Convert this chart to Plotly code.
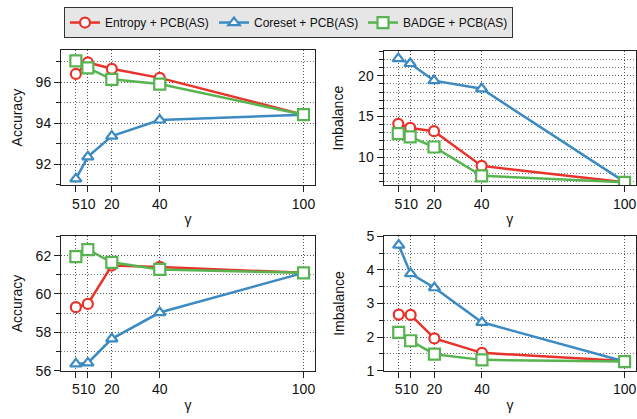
import plotly.graph_objects as go

gamma = [5, 10, 20, 40, 100]
series_names = ["Entropy + PCB(AS)", "Coreset + PCB(AS)", "BADGE + PCB(AS)"]

# top-left: accuracy
acc_top_entropy = [96.4, 96.96, 96.65, 96.21, 94.42]
acc_top_coreset = [91.3, 92.37, 93.38, 94.16, 94.42]
acc_top_badge = [97.04, 96.70, 96.14, 95.91, 94.42]
# top-right: imbalance
imb_top_entropy = [14.1, 13.6, 13.2, 8.94, 6.93]
imb_top_coreset = [22.1, 21.5, 19.4, 18.4, 6.98]
imb_top_badge = [12.9, 12.5, 11.26, 7.72, 6.93]
# bottom-left: accuracy
acc_bot_entropy = [59.31, 59.48, 61.48, 61.41, 61.1]
acc_bot_coreset = [56.35, 56.4, 57.66, 59.03, 61.1]
acc_bot_badge = [61.95, 62.31, 61.65, 61.28, 61.1]
# bottom-right: imbalance
imb_bot_entropy = [2.67, 2.66, 1.96, 1.53, 1.29]
imb_bot_coreset = [4.74, 3.89, 3.47, 2.44, 1.27]
imb_bot_badge = [2.14, 1.89, 1.49, 1.32, 1.27]

colors = ["#e8322a", "#3b8bc2", "#58b450"]
symbols = ["circle", "triangle-up", "square"]

panels = [
    ("x", "y", [acc_top_entropy, acc_top_coreset, acc_top_badge]),
    ("x2", "y2", [imb_top_entropy, imb_top_coreset, imb_top_badge]),
    ("x3", "y3", [acc_bot_entropy, acc_bot_coreset, acc_bot_badge]),
    ("x4", "y4", [imb_bot_entropy, imb_bot_coreset, imb_bot_badge]),
]

fig = go.Figure()
for pi, (xa, ya, data) in enumerate(panels):
    for si, vals in enumerate(data):
        fig.add_trace(go.Scatter(
            x=gamma, y=vals, xaxis=xa, yaxis=ya,
            mode="lines+markers", name=series_names[si],
            showlegend=(pi == 0),
            line=dict(color=colors[si], width=2.5),
            marker=dict(symbol=symbols[si], size=10 if si != 2 else 11,
                        color="white", line=dict(color=colors[si], width=2.2)),
        ))

W, H = 637, 419
def px_x(a, b):
    return [a / W, b / W]
def px_y(top, bottom):
    return [1 - bottom / H, 1 - top / H]

font = "Liberation Sans, Arial, Helvetica, sans-serif"
grid_major = "#555555"
grid_minor = "#777777"
DOT = "1px,2px"

def xaxis_cfg(domain, anchor):
    return dict(
        domain=domain, anchor=anchor, range=[-1.2, 104.8],
        tickmode="array", tickvals=gamma, ticktext=[str(g) for g in gamma],
        tickangle=0,
        ticks="outside", ticklen=6, tickcolor="#222", tickwidth=1,
        showline=True, linecolor="#222", linewidth=1, mirror=True,
        showgrid=True, gridcolor=grid_major, griddash=DOT, gridwidth=1,
        zeroline=False,
        tickfont=dict(size=14, color="#111", family=font),
        title=dict(text="γ", font=dict(size=14, color="#111", family=font), standoff=3),
    )

def yaxis_cfg(domain, anchor, rng, tick0, dtick, mtick0, mdtick, title, standoff):
    return dict(
        domain=domain, anchor=anchor, range=rng,
        tickmode="linear", tick0=tick0, dtick=dtick,
        ticks="outside", ticklen=6, tickcolor="#222", tickwidth=1,
        showline=True, linecolor="#222", linewidth=1, mirror=True,
        showgrid=True, gridcolor=grid_major, griddash=DOT, gridwidth=1,
        zeroline=False,
        minor=dict(tickmode="linear", tick0=mtick0, dtick=mdtick,
                   ticks="outside", ticklen=4, tickcolor="#222",
                   showgrid=True, gridcolor=grid_minor, griddash=DOT, gridwidth=1),
        tickfont=dict(size=14, color="#111", family=font),
        title=dict(text=title, font=dict(size=14, color="#111", family=font), standoff=standoff),
    )

fig.update_layout(
    width=W, height=H,
    margin=dict(l=0, r=0, t=0, b=0),
    paper_bgcolor="white", plot_bgcolor="white",
    font=dict(family=font, color="#111"),
    xaxis=xaxis_cfg(px_x(61, 315), "y"),
    yaxis=yaxis_cfg(px_y(44, 184), "x", [91.0, 97.55], 92, 2, 91, 1, "Accuracy", 9),
    xaxis2=xaxis_cfg(px_x(383.5, 636), "y2"),
    yaxis2=yaxis_cfg(px_y(45, 184), "x2", [6.6, 23.0], 10, 5, 0, 1, "Imbalance", 11),
    xaxis3=xaxis_cfg(px_x(61, 315), "y3"),
    yaxis3=yaxis_cfg(px_y(237.5, 377), "x3", [56, 63], 56, 2, 55, 1, "Accuracy", 9),
    xaxis4=xaxis_cfg(px_x(384, 636), "y4"),
    yaxis4=yaxis_cfg(px_y(237.5, 377), "x4", [1, 5], 1, 1, 0.5, 0.5, "Imbalance", 18),
    legend=dict(
        orientation="h", x=64 / W, y=1 + 1 / H, xanchor="left", yanchor="top",
        bgcolor="#e6e6e6", bordercolor="#333", borderwidth=1,
        font=dict(size=12, color="#111", family=font),
        entrywidth=104, entrywidthmode="pixels",
    ),
)

fig.write_html(
    "out.html",
    config={"displayModeBar": False},
    post_script="document.body.style.margin='0';document.body.style.overflow='hidden';",
)
